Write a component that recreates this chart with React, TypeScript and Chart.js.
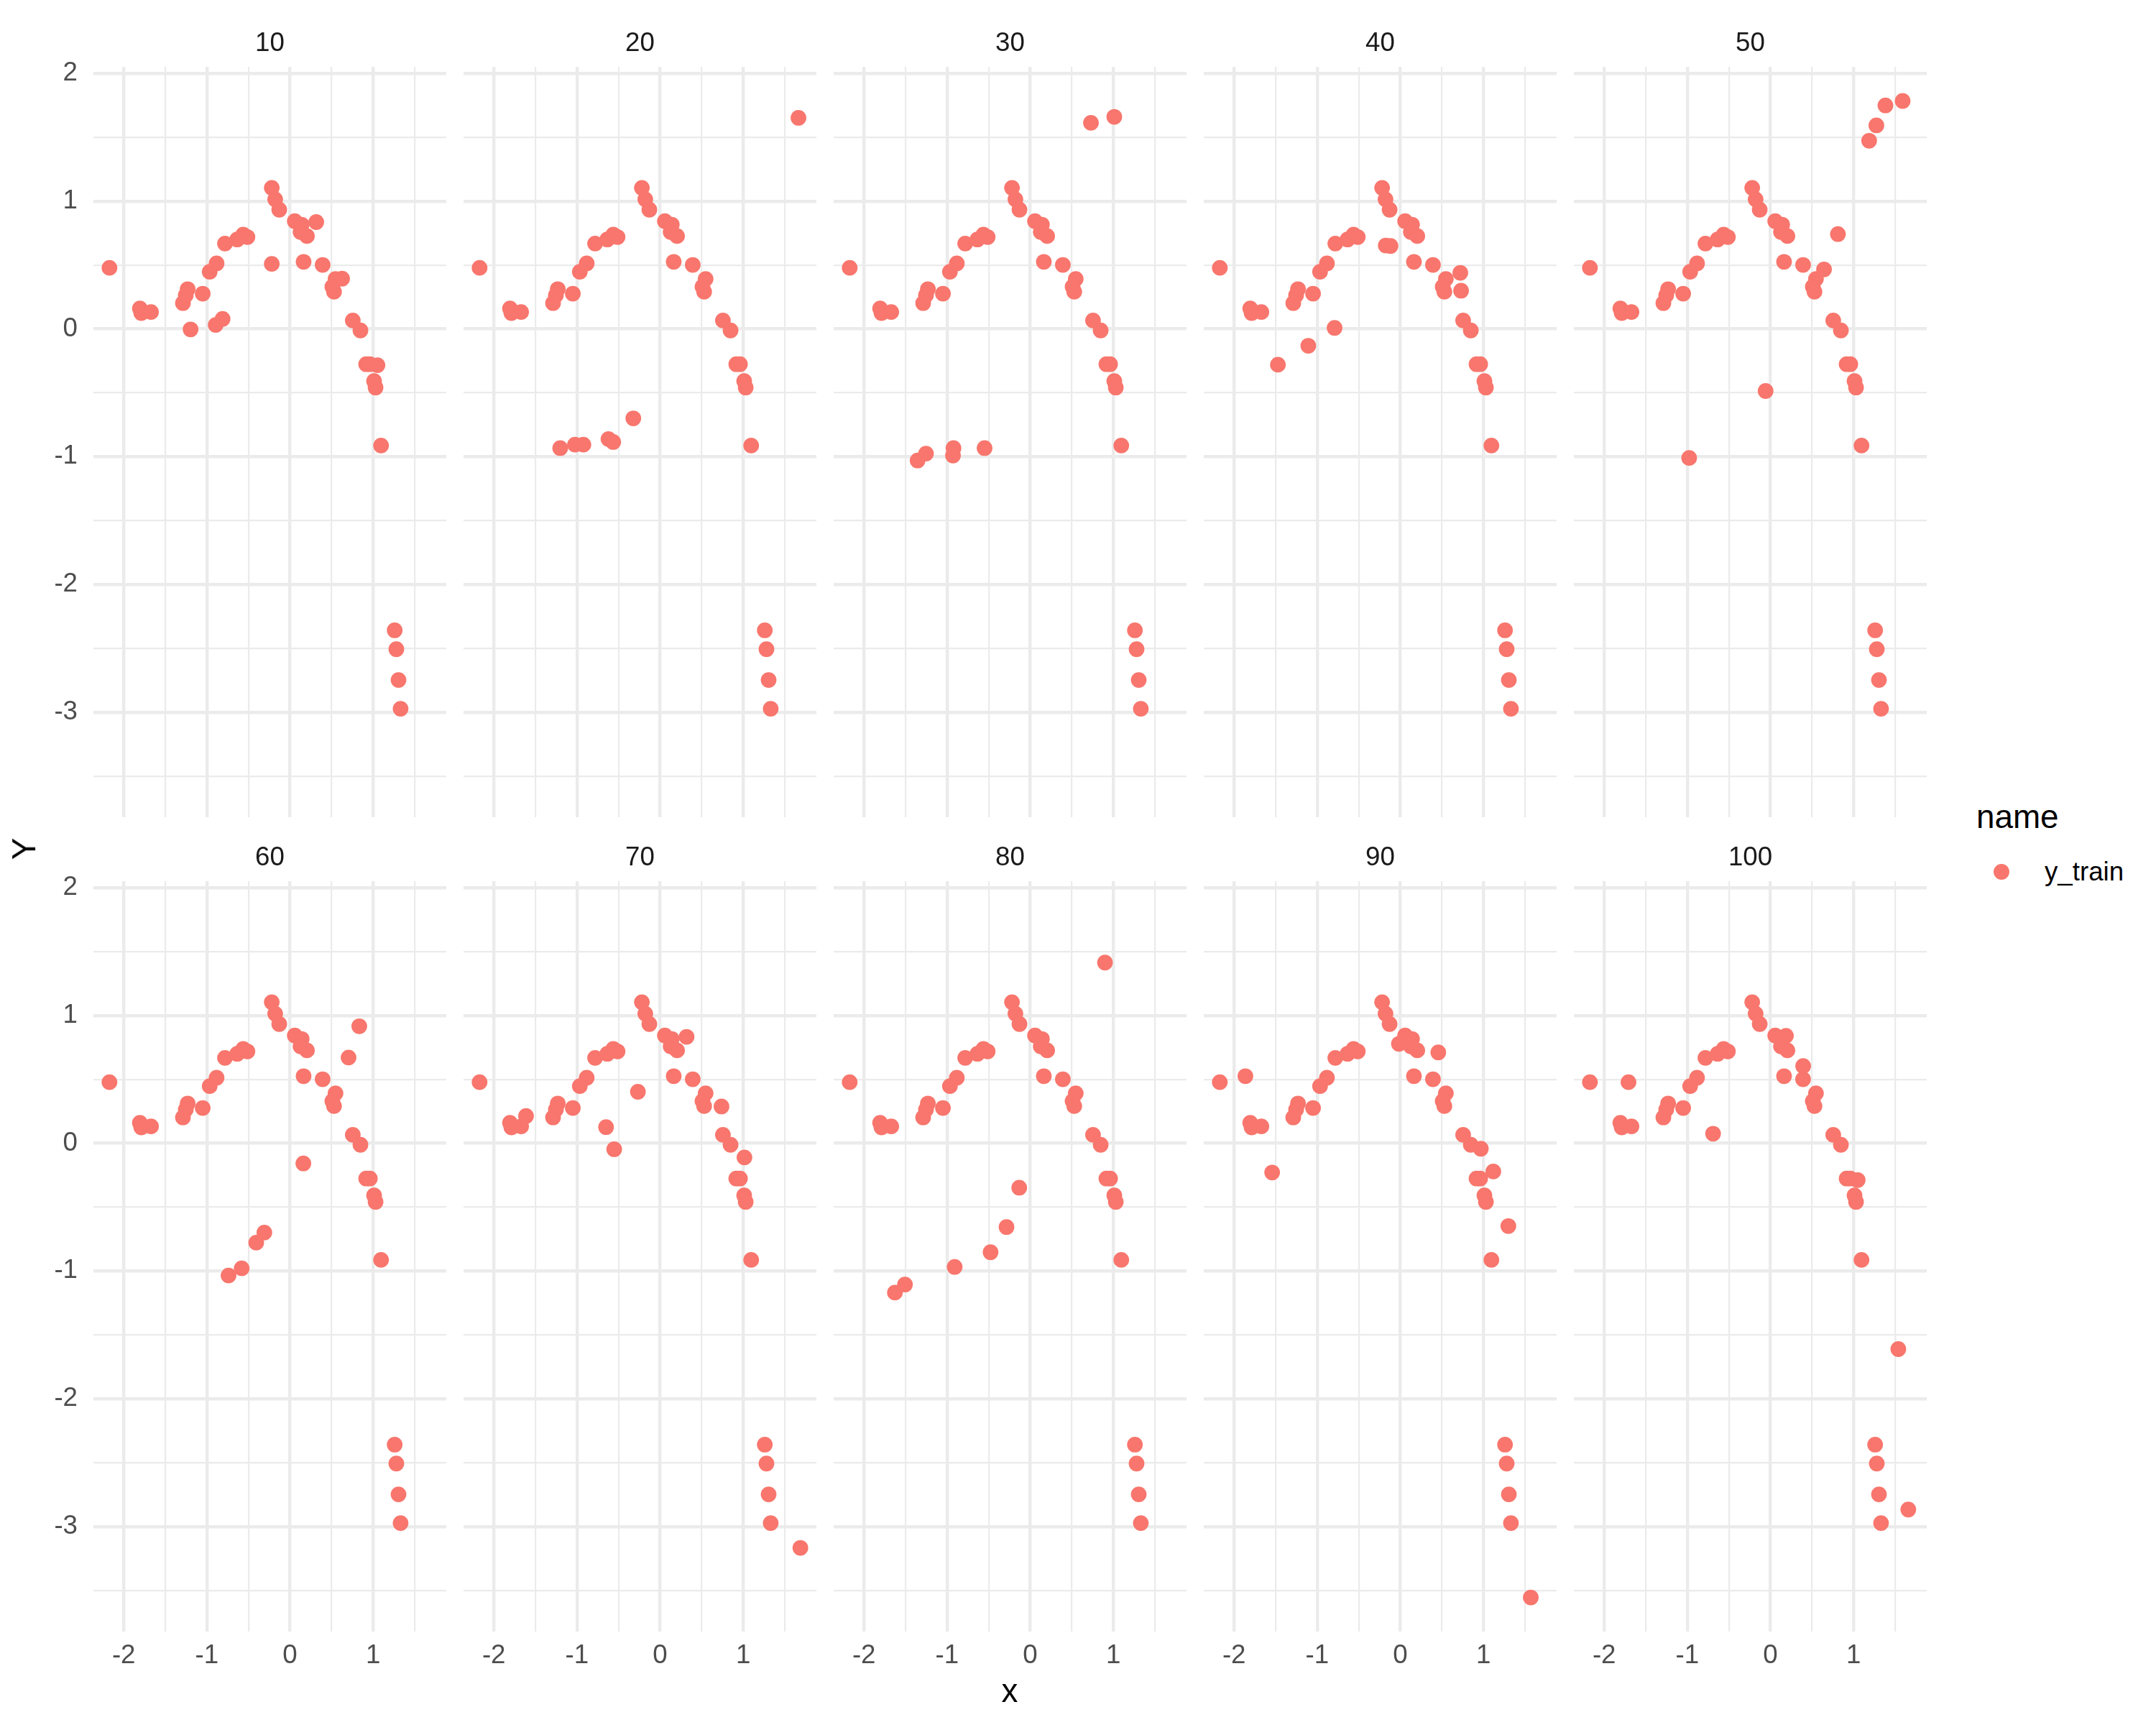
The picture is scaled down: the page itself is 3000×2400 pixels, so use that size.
import React, { useEffect, useRef } from "react";
import { Chart, registerables } from "chart.js";

Chart.register(...registerables);

// ---------- data ----------
const FACETS = ["10", "20", "30", "40", "50", "60", "70", "80", "90", "100"];

// points shared by every facet
const BASE_X = [
  -2.172, -1.806, -1.789, -1.672, -1.231, -1.254, -1.288, -1.05, -0.966, -0.883,
  -0.782, -0.635, -0.563, -0.512, -0.219, -0.178, -0.129, 0.058, 0.141, 0.127,
  0.204, 0.164, 0.393, 0.548, 0.51, 0.53, 0.756, 0.848, 0.917, 0.961,
  1.012, 1.03, 1.096, 1.26, 1.28, 1.306, 1.331,
];
const BASE_Y = [
  0.478, 0.16, 0.124, 0.132, 0.311, 0.264, 0.202, 0.276, 0.447, 0.513,
  0.668, 0.7, 0.738, 0.719, 1.104, 1.014, 0.933, 0.843, 0.816, 0.758,
  0.727, 0.525, 0.501, 0.391, 0.33, 0.291, 0.066, -0.012, -0.276, -0.276,
  -0.408, -0.459, -0.913, -2.359, -2.507, -2.748, -2.973,
];

// facet-specific points [x, y]
const EXTRA_10 = [[-1.196, -0.004], [-0.894, 0.031], [-0.811, 0.078], [-0.219, 0.509], [0.316, 0.836], [0.627, 0.393], [1.053, -0.284]];
const EXTRA_20 = [[-1.202, -0.933], [-1.024, -0.906], [-0.923, -0.906], [-0.621, -0.862], [-0.564, -0.885], [-0.322, -0.7], [1.665, 1.652]];
const EXTRA_30 = [[0.731, 1.613], [1.012, 1.66], [-1.355, -1.03], [-1.254, -0.976], [-0.923, -0.933], [-0.929, -0.991], [-0.549, -0.933]];
const EXTRA_40 = [[-1.473, -0.28], [-1.107, -0.132], [-0.791, 0.008], [-0.175, 0.653], [-0.118, 0.649], [0.722, 0.439], [0.731, 0.299]];
const EXTRA_50 = [[1.188, 1.473], [1.275, 1.593], [1.384, 1.749], [1.591, 1.784], [0.812, 0.742], [0.645, 0.466], [-0.058, -0.486], [-0.978, -1.01]];
const EXTRA_60 = [[0.705, 0.671], [0.834, 0.916], [0.161, -0.158], [-0.739, -1.035], [-0.581, -0.979], [-0.406, -0.778], [-0.308, -0.699]];
const EXTRA_70 = [[-1.613, 0.213], [-0.65, 0.126], [-0.552, -0.047], [-0.267, 0.403], [0.319, 0.833], [0.739, 0.288], [1.015, -0.111], [1.688, -3.167]];
const EXTRA_80 = [[0.9, 1.414], [-0.132, -0.348], [-0.285, -0.656], [-0.477, -0.853], [-0.909, -0.968], [-1.507, -1.106], [-1.628, -1.169]];
const EXTRA_90 = [[-1.864, 0.525], [-1.542, -0.229], [-0.017, 0.778], [0.457, 0.711], [0.969, -0.043], [1.119, -0.221], [1.3, -0.648], [1.57, -3.555]];
const EXTRA_100 = [[-1.708, 0.478], [-0.69, 0.075], [0.187, 0.841], [0.394, 0.604], [1.05, -0.288], [1.539, -1.611], [1.659, -2.867]];

const EXTRAS = [EXTRA_10, EXTRA_20, EXTRA_30, EXTRA_40, EXTRA_50, EXTRA_60, EXTRA_70, EXTRA_80, EXTRA_90, EXTRA_100];

const X_BREAKS = [-2, -1, 0, 1];
const X_MINOR = [-1.5, -0.5, 0.5, 1.5];
const Y_BREAKS = [-3, -2, -1, 0, 1, 2];
const Y_MINOR = [-3.5, -2.5, -1.5, -0.5, 0.5, 1.5];

const SERIES_NAME = "y_train";
const LEGEND_TITLE = "name";
const X_TITLE = "x";
const Y_TITLE = "Y";

// ---------- shared scale limits (ggplot-style 5% expansion) ----------
const allX = [...BASE_X, ...EXTRAS.flat().map((p) => p[0])];
const allY = [...BASE_Y, ...EXTRAS.flat().map((p) => p[1])];
const xLo = Math.min(...allX), xHi = Math.max(...allX);
const yLo = Math.min(...allY), yHi = Math.max(...allY);
const X_MIN = xLo - 0.05 * (xHi - xLo);
const X_MAX = xHi + 0.05 * (xHi - xLo);
const Y_MIN = yLo - 0.05 * (yHi - yLo);
const Y_MAX = yHi + 0.05 * (yHi - yLo);

// ---------- layout ----------
const FONT = '"Liberation Sans", Arial, Helvetica, sans-serif';
const POINT_COLOR = "#F8766D";
const GRID_COLOR = "#EBEBEB";
const PLOT_W = 491;
const PLOT_H = 1044;
const COL_LEFT = [130, 645, 1160, 1675, 2190];
const ROW_TOP = [93, 1226];
const TITLE_H = 58;
const Y_AXIS_W = 130;
const X_AXIS_H = 110;
const SMALL = 36.7;
const LARGE = 45.8;

const xGrid = [...X_BREAKS, ...X_MINOR].sort((a, b) => a - b);
const yGrid = [...Y_BREAKS, ...Y_MINOR].sort((a, b) => a - b);

const noPad = (s: any) => {
  s.paddingTop = 0;
  s.paddingBottom = 0;
  s.paddingLeft = 0;
  s.paddingRight = 0;
};

function Panel({ idx }: { idx: number }) {
  const ref = useRef<HTMLCanvasElement | null>(null);
  const col = idx % 5;
  const row = Math.floor(idx / 5);
  const leftCol = col === 0;
  const bottomRow = row === 1;
  const yW = leftCol ? Y_AXIS_W : 0;
  const xH = bottomRow ? X_AXIS_H : 0;
  const w = yW + PLOT_W + yW;
  const h = TITLE_H + PLOT_H + xH;
  const left = COL_LEFT[col] - yW;
  const top = ROW_TOP[row] - TITLE_H;

  useEffect(() => {
    const pts = [
      ...BASE_X.map((x, i) => ({ x, y: BASE_Y[i] })),
      ...EXTRAS[idx].map(([x, y]) => ({ x, y })),
    ];
    const gridWidth = (ctx: any) =>
      ctx.tick && Number.isInteger(ctx.tick.value) ? 4.4 : 2.2;
    const scales: any = {
      x: {
        type: "linear",
        position: "bottom",
        min: X_MIN,
        max: X_MAX,
        bounds: "data",
        afterBuildTicks: (s: any) => {
          s.ticks = xGrid.map((v) => ({ value: v }));
        },
        afterFit: (s: any) => {
          s.height = xH;
          noPad(s);
        },
        grid: { color: GRID_COLOR, lineWidth: gridWidth, drawTicks: false },
        border: { display: false },
        ticks: {
          display: bottomRow,
          autoSkip: false,
          maxRotation: 0,
          padding: 12,
          color: "#4D4D4D",
          font: { family: FONT, size: SMALL },
          callback: (v: any) => (X_BREAKS.includes(Number(v)) ? String(v) : ""),
        },
      },
      y: {
        type: "linear",
        position: "left",
        min: Y_MIN,
        max: Y_MAX,
        bounds: "data",
        afterBuildTicks: (s: any) => {
          s.ticks = yGrid.map((v) => ({ value: v }));
        },
        afterFit: (s: any) => {
          s.width = yW;
          noPad(s);
        },
        grid: { color: GRID_COLOR, lineWidth: gridWidth, drawTicks: false },
        border: { display: false },
        ticks: {
          display: leftCol,
          autoSkip: false,
          padding: 22,
          color: "#4D4D4D",
          font: { family: FONT, size: SMALL },
          callback: (v: any) => (Y_BREAKS.includes(Number(v)) ? String(v) : ""),
        },
      },
    };
    if (leftCol) {
      // empty balancing axis on the right so the facet title stays centred on the panel
      scales.yr = {
        type: "linear",
        position: "right",
        display: true,
        grid: { display: false, drawTicks: false },
        border: { display: false },
        ticks: { display: false },
        afterFit: (s: any) => {
          s.width = yW;
          noPad(s);
        },
      };
    }
    const chart = new Chart(ref.current as HTMLCanvasElement, {
      type: "scatter",
      data: {
        datasets: [
          {
            label: SERIES_NAME,
            data: pts,
            backgroundColor: POINT_COLOR,
            borderColor: POINT_COLOR,
            borderWidth: 0,
            pointRadius: 10.9,
            pointHoverRadius: 10.9,
          },
        ],
      },
      options: {
        responsive: false,
        animation: false,
        devicePixelRatio: 1,
        events: [],
        layout: { padding: 0, autoPadding: false },
        plugins: {
          legend: { display: false },
          tooltip: { enabled: false },
          title: {
            display: true,
            text: FACETS[idx],
            color: "#1A1A1A",
            font: { family: FONT, size: SMALL, weight: "normal" },
            padding: { top: 4, bottom: 10 },
          },
        },
        scales,
      } as any,
    });
    return () => chart.destroy();
  }, []);

  return (
    <canvas
      ref={ref}
      width={w}
      height={h}
      style={{ position: "absolute", left, top, width: w, height: h }}
    />
  );
}

export default function App() {
  const text: React.CSSProperties = { position: "absolute", fontFamily: FONT, color: "#000", lineHeight: 1, whiteSpace: "nowrap" };
  return (
    <div style={{ position: "absolute", left: 0, top: 0, width: 3000, height: 2400, background: "#fff", overflow: "hidden" }}>
      {FACETS.map((_, i) => (
        <Panel key={i} idx={i} />
      ))}
      <div style={{ ...text, fontSize: LARGE, left: 1405, top: 2353, transform: "translate(-50%, -50%)" }}>{X_TITLE}</div>
      <div style={{ ...text, fontSize: LARGE, left: 34, top: 1181, transform: "translate(-50%, -50%) rotate(-90deg)" }}>{Y_TITLE}</div>
      <div style={{ ...text, fontSize: LARGE, left: 2750, top: 1137, transform: "translateY(-50%)" }}>{LEGEND_TITLE}</div>
      <div style={{ position: "absolute", left: 2785 - 11, top: 1213 - 11, width: 22, height: 22, borderRadius: "50%", background: POINT_COLOR }} />
      <div style={{ ...text, fontSize: SMALL, left: 2845, top: 1213, transform: "translateY(-50%)" }}>{SERIES_NAME}</div>
    </div>
  );
}
